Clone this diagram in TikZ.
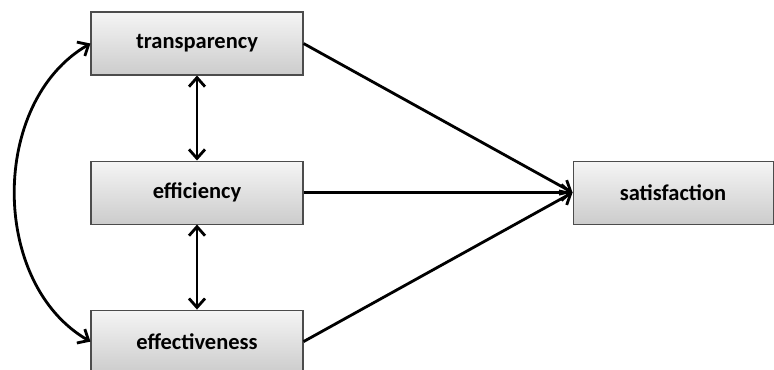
\documentclass[tikz,border=0pt]{standalone}
\usepackage{fontspec}
\setmainfont{Carlito}
\usetikzlibrary{arrows.meta,positioning}

\begin{document}
\begin{tikzpicture}[node distance=1.7cm,
  >={Straight Barb[length=1.8mm,width=3.2mm]},
  var/.style={rectangle, draw=gray!60!black, line width=0.6pt,
    top color=gray!8, bottom color=gray!40,
    minimum width=4.24cm, minimum height=1.26cm,
    font=\bfseries\fontsize{12.8}{15}\selectfont},
  link/.style={line width=1.6pt}]
  \useasboundingbox (0,0) rectangle (15.48,-7.40);

  \node (trans) [var] at (3.94,-0.87) {transparency};
  \node (effic) [var, below=of trans] {efficiency};
  \node (effec) [var, below=of effic] {effectiveness};
  \node (satis) [var, right=5.38cm of effic, minimum width=4cm] {satisfaction};

  % paths into satisfaction
  \draw[link, ->] (trans.east) -- (satis.west);
  \draw[link, ->] (effic.east) -- (satis.west);
  \draw[link, ->] (effec.east) -- (satis.west);

  % correlations
  \draw[link, <->] (trans.south) -- (effic.north);
  \draw[link, <->] (effic.south) -- (effec.north);
  \draw[link, <->] (trans.west) to[out=210, in=150] (effec.west);
\end{tikzpicture}
\end{document}
